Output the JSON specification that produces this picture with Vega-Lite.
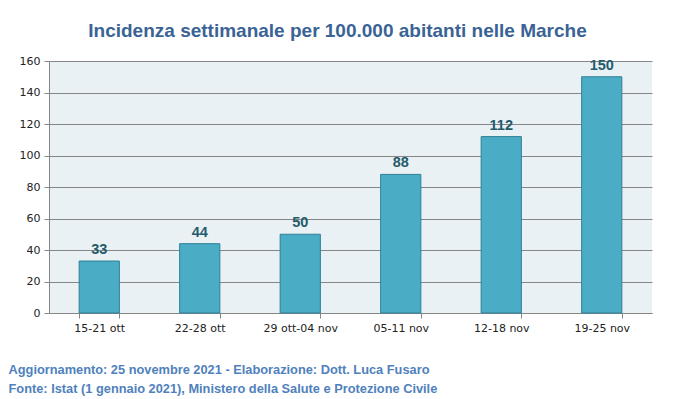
{
  "$schema": "https://vega.github.io/schema/vega-lite/v6.json",
  "width": 603,
  "height": 252,
  "padding": {"left": 8, "top": 22, "right": 8, "bottom": 2},
  "background": "white",
  "title": {
    "text": "Incidenza settimanale per 100.000 abitanti nelle Marche",
    "font": "Liberation Sans",
    "fontSize": 19,
    "fontWeight": "bold",
    "color": "#3A6395",
    "anchor": "middle",
    "baseline": "top",
    "dx": -13,
    "offset": 14
  },
  "data": {
    "values": [
      {"settimana": "15-21 ott", "incidenza": 33},
      {"settimana": "22-28 ott", "incidenza": 44},
      {"settimana": "29 ott-04 nov", "incidenza": 50},
      {"settimana": "05-11 nov", "incidenza": 88},
      {"settimana": "12-18 nov", "incidenza": 112},
      {"settimana": "19-25 nov", "incidenza": 150}
    ]
  },
  "encoding": {
    "x": {
      "field": "settimana",
      "type": "nominal",
      "sort": null,
      "scale": {"paddingInner": 0.6, "paddingOuter": 0.3},
      "axis": {
        "title": ["Aggiornamento: 25 novembre 2021 - Elaborazione: Dott. Luca Fusaro", "Fonte: Istat (1 gennaio 2021), Ministero della Salute e Protezione Civile"],
        "titleFont": "Liberation Sans",
        "titleFontSize": 12.8,
        "titleFontWeight": "bold",
        "titleColor": "#4F81BD",
        "titleAnchor": "start",
        "titleAlign": "left",
        "titleBaseline": "top",
        "titleX": -41,
        "titleY": 50,
        "titleLineHeight": 19,
        "labelAngle": 0,
        "labelFont": "DejaVu Sans",
        "labelFontSize": 11,
        "labelColor": "#222222",
        "labelPadding": 4,
        "tickBand": "extent",
        "tickSize": 5,
        "tickColor": "#868686",
        "domainColor": "#868686"
      }
    },
    "y": {
      "field": "incidenza",
      "type": "quantitative",
      "scale": {"domain": [0, 160], "nice": false},
      "axis": {
        "title": null,
        "values": [0, 20, 40, 60, 80, 100, 120, 140, 160],
        "labelFont": "DejaVu Sans",
        "labelFontSize": 11,
        "labelColor": "#222222",
        "labelPadding": 4,
        "tickSize": 5,
        "tickColor": "#868686",
        "domainColor": "#868686",
        "gridColor": "#868686",
        "gridOpacity": 1
      }
    }
  },
  "layer": [
    {
      "mark": {"type": "bar", "color": "#4BACC6", "stroke": "#2E7F95", "strokeWidth": 1}
    },
    {
      "mark": {
        "type": "text",
        "dy": -11,
        "font": "Liberation Sans",
        "fontSize": 14.5,
        "fontWeight": "bold",
        "color": "#245B6B"
      },
      "encoding": {"text": {"field": "incidenza", "type": "quantitative"}}
    }
  ],
  "config": {
    "view": {"fill": "#EAF1F5", "stroke": null}
  }
}
